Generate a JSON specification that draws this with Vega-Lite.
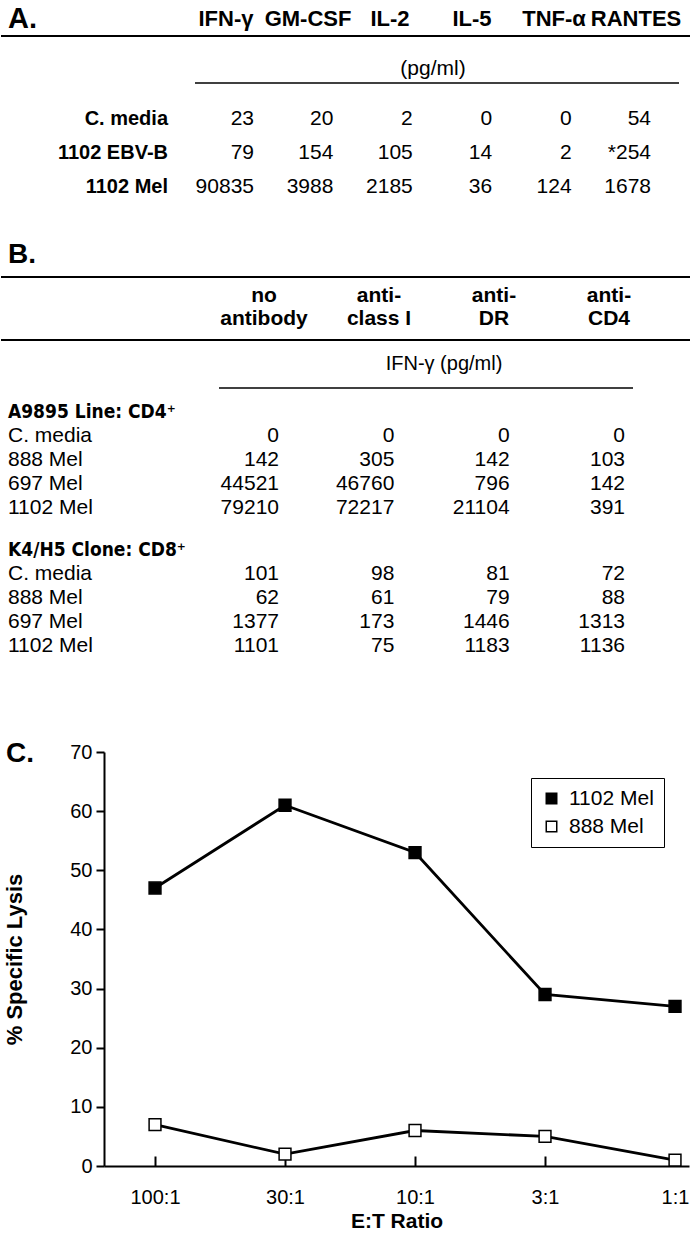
{
"$schema": "https://vega.github.io/schema/vega-lite/v6.json",
"width": 690, "height": 1166, "padding": 0, "autosize": {"type": "pad"}, "background": "white",
"config": {
  "view": {"stroke": null},
  "text": {"font": "Liberation Sans, Arial, Helvetica, sans-serif", "color": "black"},
  "rule": {"color": "black"},
  "line": {"color": "black"},
  "axis": {"labelFont": "Liberation Sans, Arial, sans-serif", "titleFont": "Liberation Sans, Arial, sans-serif", "labelColor": "black", "titleColor": "black", "domainColor": "black", "tickColor": "black", "grid": false},
  "legend": {"labelFont": "Liberation Sans, Arial, sans-serif", "labelColor": "black"}
},
"datasets": {
  "cytokinesA": [
    {"target": "C. media", "cytokine": "IFN-γ", "pgml": 23},
    {"target": "C. media", "cytokine": "GM-CSF", "pgml": 20},
    {"target": "C. media", "cytokine": "IL-2", "pgml": 2},
    {"target": "C. media", "cytokine": "IL-5", "pgml": 0},
    {"target": "C. media", "cytokine": "TNF-α", "pgml": 0},
    {"target": "C. media", "cytokine": "RANTES", "pgml": 54},
    {"target": "1102 EBV-B", "cytokine": "IFN-γ", "pgml": 79},
    {"target": "1102 EBV-B", "cytokine": "GM-CSF", "pgml": 154},
    {"target": "1102 EBV-B", "cytokine": "IL-2", "pgml": 105},
    {"target": "1102 EBV-B", "cytokine": "IL-5", "pgml": 14},
    {"target": "1102 EBV-B", "cytokine": "TNF-α", "pgml": 2},
    {"target": "1102 EBV-B", "cytokine": "RANTES", "pgml": "*254"},
    {"target": "1102 Mel", "cytokine": "IFN-γ", "pgml": 90835},
    {"target": "1102 Mel", "cytokine": "GM-CSF", "pgml": 3988},
    {"target": "1102 Mel", "cytokine": "IL-2", "pgml": 2185},
    {"target": "1102 Mel", "cytokine": "IL-5", "pgml": 36},
    {"target": "1102 Mel", "cytokine": "TNF-α", "pgml": 124},
    {"target": "1102 Mel", "cytokine": "RANTES", "pgml": 1678}
  ],
  "ifngB": [
    {"line": "A9895 Line: CD4⁺", "target": "C. media", "antibody": "no antibody", "ifng": 0},
    {"line": "A9895 Line: CD4⁺", "target": "C. media", "antibody": "anti-class I", "ifng": 0},
    {"line": "A9895 Line: CD4⁺", "target": "C. media", "antibody": "anti-DR", "ifng": 0},
    {"line": "A9895 Line: CD4⁺", "target": "C. media", "antibody": "anti-CD4", "ifng": 0},
    {"line": "A9895 Line: CD4⁺", "target": "888 Mel", "antibody": "no antibody", "ifng": 142},
    {"line": "A9895 Line: CD4⁺", "target": "888 Mel", "antibody": "anti-class I", "ifng": 305},
    {"line": "A9895 Line: CD4⁺", "target": "888 Mel", "antibody": "anti-DR", "ifng": 142},
    {"line": "A9895 Line: CD4⁺", "target": "888 Mel", "antibody": "anti-CD4", "ifng": 103},
    {"line": "A9895 Line: CD4⁺", "target": "697 Mel", "antibody": "no antibody", "ifng": 44521},
    {"line": "A9895 Line: CD4⁺", "target": "697 Mel", "antibody": "anti-class I", "ifng": 46760},
    {"line": "A9895 Line: CD4⁺", "target": "697 Mel", "antibody": "anti-DR", "ifng": 796},
    {"line": "A9895 Line: CD4⁺", "target": "697 Mel", "antibody": "anti-CD4", "ifng": 142},
    {"line": "A9895 Line: CD4⁺", "target": "1102 Mel", "antibody": "no antibody", "ifng": 79210},
    {"line": "A9895 Line: CD4⁺", "target": "1102 Mel", "antibody": "anti-class I", "ifng": 72217},
    {"line": "A9895 Line: CD4⁺", "target": "1102 Mel", "antibody": "anti-DR", "ifng": 21104},
    {"line": "A9895 Line: CD4⁺", "target": "1102 Mel", "antibody": "anti-CD4", "ifng": 391},
    {"line": "K4/H5 Clone: CD8⁺", "target": "C. media", "antibody": "no antibody", "ifng": 101},
    {"line": "K4/H5 Clone: CD8⁺", "target": "C. media", "antibody": "anti-class I", "ifng": 98},
    {"line": "K4/H5 Clone: CD8⁺", "target": "C. media", "antibody": "anti-DR", "ifng": 81},
    {"line": "K4/H5 Clone: CD8⁺", "target": "C. media", "antibody": "anti-CD4", "ifng": 72},
    {"line": "K4/H5 Clone: CD8⁺", "target": "888 Mel", "antibody": "no antibody", "ifng": 62},
    {"line": "K4/H5 Clone: CD8⁺", "target": "888 Mel", "antibody": "anti-class I", "ifng": 61},
    {"line": "K4/H5 Clone: CD8⁺", "target": "888 Mel", "antibody": "anti-DR", "ifng": 79},
    {"line": "K4/H5 Clone: CD8⁺", "target": "888 Mel", "antibody": "anti-CD4", "ifng": 88},
    {"line": "K4/H5 Clone: CD8⁺", "target": "697 Mel", "antibody": "no antibody", "ifng": 1377},
    {"line": "K4/H5 Clone: CD8⁺", "target": "697 Mel", "antibody": "anti-class I", "ifng": 173},
    {"line": "K4/H5 Clone: CD8⁺", "target": "697 Mel", "antibody": "anti-DR", "ifng": 1446},
    {"line": "K4/H5 Clone: CD8⁺", "target": "697 Mel", "antibody": "anti-CD4", "ifng": 1313},
    {"line": "K4/H5 Clone: CD8⁺", "target": "1102 Mel", "antibody": "no antibody", "ifng": 1101},
    {"line": "K4/H5 Clone: CD8⁺", "target": "1102 Mel", "antibody": "anti-class I", "ifng": 75},
    {"line": "K4/H5 Clone: CD8⁺", "target": "1102 Mel", "antibody": "anti-DR", "ifng": 1183},
    {"line": "K4/H5 Clone: CD8⁺", "target": "1102 Mel", "antibody": "anti-CD4", "ifng": 1136}
  ],
  "lysis": [
    {"ratio": "100:1", "target": "1102 Mel", "lysis": 47},
    {"ratio": "30:1", "target": "1102 Mel", "lysis": 61},
    {"ratio": "10:1", "target": "1102 Mel", "lysis": 53},
    {"ratio": "3:1", "target": "1102 Mel", "lysis": 29},
    {"ratio": "1:1", "target": "1102 Mel", "lysis": 27},
    {"ratio": "100:1", "target": "888 Mel", "lysis": 7},
    {"ratio": "30:1", "target": "888 Mel", "lysis": 2},
    {"ratio": "10:1", "target": "888 Mel", "lysis": 6},
    {"ratio": "3:1", "target": "888 Mel", "lysis": 5},
    {"ratio": "1:1", "target": "888 Mel", "lysis": 1}
  ]
},
"resolve": {"scale": {"x": "independent", "y": "independent"}},
"layer": [
  {"data": {"values": [{"panel": "A."}]},
   "mark": {"type": "text", "fontSize": 29, "fontWeight": "bold", "align": "left", "baseline": "alphabetic"},
   "encoding": {"text": {"field": "panel"},
     "x": {"field": "panel", "type": "nominal", "scale": {"type": "point", "range": [7, 7], "padding": 0}, "axis": null},
     "y": {"field": "panel", "type": "nominal", "scale": {"type": "point", "range": [28, 28], "padding": 0}, "axis": null}}},
  {"data": {"name": "cytokinesA"}, "transform": [{"filter": "datum.target === 'C. media'"}],
   "mark": {"type": "text", "fontSize": 22, "fontWeight": "bold", "align": "center", "baseline": "alphabetic"},
   "encoding": {"text": {"field": "cytokine"},
     "x": {"field": "cytokine", "type": "nominal", "scale": {"type": "point", "domain": ["IFN-γ", "GM-CSF", "IL-2", "IL-5", "TNF-α", "RANTES"], "range": [225, 635], "padding": 0}, "axis": null},
     "y": {"datum": "cytokine header", "type": "nominal", "scale": {"type": "point", "range": [26, 26], "padding": 0}, "axis": null}}},
  {"data": {"values": [{"rule": "header rule"}]},
   "mark": {"type": "rule", "strokeWidth": 2},
   "encoding": {"y": {"field": "rule", "type": "nominal", "scale": {"type": "point", "range": [36, 36], "padding": 0}, "axis": null}}},
  {"data": {"values": [{"unit": "(pg/ml)"}]},
   "mark": {"type": "text", "fontSize": 21, "align": "center", "baseline": "alphabetic"},
   "encoding": {"text": {"field": "unit"},
     "x": {"field": "unit", "type": "nominal", "scale": {"type": "point", "range": [432, 432], "padding": 0}, "axis": null},
     "y": {"field": "unit", "type": "nominal", "scale": {"type": "point", "range": [75, 75], "padding": 0}, "axis": null}}},
  {"data": {"values": [{"from": "IFN-γ", "to": "RANTES"}]},
   "mark": {"type": "rule", "strokeWidth": 1.5},
   "encoding": {
     "x": {"field": "from", "type": "nominal", "scale": {"type": "point", "domain": ["IFN-γ", "GM-CSF", "IL-2", "IL-5", "TNF-α", "RANTES"], "range": [194, 678], "padding": 0}, "axis": null},
     "x2": {"field": "to"},
     "y": {"datum": "unit rule", "type": "nominal", "scale": {"type": "point", "range": [83, 83], "padding": 0}, "axis": null}}},
  {"data": {"name": "cytokinesA"}, "transform": [{"filter": "datum.cytokine === 'IFN-γ'"}],
   "mark": {"type": "text", "fontSize": 20, "fontWeight": "bold", "align": "right", "baseline": "alphabetic"},
   "encoding": {"text": {"field": "target"},
     "x": {"datum": "row label", "type": "nominal", "scale": {"type": "point", "range": [167, 167], "padding": 0}, "axis": null},
     "y": {"field": "target", "type": "nominal", "scale": {"type": "point", "domain": ["C. media", "1102 EBV-B", "1102 Mel"], "range": [125, 193], "padding": 0}, "axis": null}}},
  {"data": {"name": "cytokinesA"},
   "mark": {"type": "text", "fontSize": 21, "align": "right", "baseline": "alphabetic"},
   "encoding": {"text": {"field": "pgml", "type": "nominal"},
     "x": {"field": "cytokine", "type": "nominal", "scale": {"type": "point", "domain": ["IFN-γ", "GM-CSF", "IL-2", "IL-5", "TNF-α", "RANTES"], "range": [253, 650], "padding": 0}, "axis": null},
     "y": {"field": "target", "type": "nominal", "scale": {"type": "point", "domain": ["C. media", "1102 EBV-B", "1102 Mel"], "range": [125, 193], "padding": 0}, "axis": null}}},

  {"data": {"values": [{"panel": "B."}]},
   "mark": {"type": "text", "fontSize": 28, "fontWeight": "bold", "align": "left", "baseline": "alphabetic"},
   "encoding": {"text": {"field": "panel"},
     "x": {"field": "panel", "type": "nominal", "scale": {"type": "point", "range": [7, 7], "padding": 0}, "axis": null},
     "y": {"field": "panel", "type": "nominal", "scale": {"type": "point", "range": [263, 263], "padding": 0}, "axis": null}}},
  {"data": {"values": [{"rule": "antibody header top"}]},
   "mark": {"type": "rule", "strokeWidth": 2},
   "encoding": {"y": {"field": "rule", "type": "nominal", "scale": {"type": "point", "range": [277, 277], "padding": 0}, "axis": null}}},
  {"data": {"values": [{"rule": "antibody header bottom"}]},
   "mark": {"type": "rule", "strokeWidth": 2},
   "encoding": {"y": {"field": "rule", "type": "nominal", "scale": {"type": "point", "range": [340, 340], "padding": 0}, "axis": null}}},
  {"data": {"values": [
     {"antibody": "no antibody", "header": ["no", "antibody"]},
     {"antibody": "anti-class I", "header": ["anti-", "class I"]},
     {"antibody": "anti-DR", "header": ["anti-", "DR"]},
     {"antibody": "anti-CD4", "header": ["anti-", "CD4"]}]},
   "mark": {"type": "text", "fontSize": 21, "fontWeight": "bold", "align": "center", "baseline": "alphabetic", "lineHeight": 23},
   "encoding": {"text": {"field": "header"},
     "x": {"field": "antibody", "type": "nominal", "scale": {"type": "point", "domain": ["no antibody", "anti-class I", "anti-DR", "anti-CD4"], "range": [263, 608], "padding": 0}, "axis": null},
     "y": {"datum": "antibody header", "type": "nominal", "scale": {"type": "point", "range": [302, 302], "padding": 0}, "axis": null}}},
  {"data": {"values": [{"unit": "IFN-γ (pg/ml)"}]},
   "mark": {"type": "text", "fontSize": 20, "align": "center", "baseline": "alphabetic"},
   "encoding": {"text": {"field": "unit"},
     "x": {"field": "unit", "type": "nominal", "scale": {"type": "point", "range": [443, 443], "padding": 0}, "axis": null},
     "y": {"field": "unit", "type": "nominal", "scale": {"type": "point", "range": [370, 370], "padding": 0}, "axis": null}}},
  {"data": {"values": [{"from": "no antibody", "to": "anti-CD4"}]},
   "mark": {"type": "rule", "strokeWidth": 1.5},
   "encoding": {
     "x": {"field": "from", "type": "nominal", "scale": {"type": "point", "domain": ["no antibody", "anti-class I", "anti-DR", "anti-CD4"], "range": [218, 632], "padding": 0}, "axis": null},
     "x2": {"field": "to"},
     "y": {"datum": "unit rule", "type": "nominal", "scale": {"type": "point", "range": [388, 388], "padding": 0}, "axis": null}}},
  {"data": {"name": "ifngB"}, "transform": [{"filter": "datum.antibody === 'no antibody' && datum.target === 'C. media'"}],
   "mark": {"type": "text", "fontSize": 19, "fontWeight": "bold", "font": "Liberation Sans Narrow, Arial Narrow, DejaVu Sans Condensed, Liberation Sans, sans-serif", "align": "left", "baseline": "alphabetic"},
   "encoding": {"text": {"field": "line"},
     "x": {"datum": "row label", "type": "nominal", "scale": {"type": "point", "range": [7, 7], "padding": 0}, "axis": null},
     "y": {"field": "line", "type": "nominal", "scale": {"type": "point", "domain": ["A9895 Line: CD4⁺", "K4/H5 Clone: CD8⁺"], "range": [418, 556], "padding": 0}, "axis": null}}},
  {"data": {"name": "ifngB"}, "transform": [{"filter": "datum.antibody === 'no antibody' && datum.line === 'A9895 Line: CD4⁺'"}],
   "mark": {"type": "text", "fontSize": 21, "align": "left", "baseline": "alphabetic"},
   "encoding": {"text": {"field": "target"},
     "x": {"datum": "row label", "type": "nominal", "scale": {"type": "point", "range": [7, 7], "padding": 0}, "axis": null},
     "y": {"field": "target", "type": "nominal", "scale": {"type": "point", "domain": ["C. media", "888 Mel", "697 Mel", "1102 Mel"], "range": [442, 514], "padding": 0}, "axis": null}}},
  {"data": {"name": "ifngB"}, "transform": [{"filter": "datum.antibody === 'no antibody' && datum.line === 'K4/H5 Clone: CD8⁺'"}],
   "mark": {"type": "text", "fontSize": 21, "align": "left", "baseline": "alphabetic"},
   "encoding": {"text": {"field": "target"},
     "x": {"datum": "row label", "type": "nominal", "scale": {"type": "point", "range": [7, 7], "padding": 0}, "axis": null},
     "y": {"field": "target", "type": "nominal", "scale": {"type": "point", "domain": ["C. media", "888 Mel", "697 Mel", "1102 Mel"], "range": [580, 652], "padding": 0}, "axis": null}}},
  {"data": {"name": "ifngB"}, "transform": [{"filter": "datum.line === 'A9895 Line: CD4⁺'"}],
   "mark": {"type": "text", "fontSize": 21, "align": "right", "baseline": "alphabetic"},
   "encoding": {"text": {"field": "ifng", "type": "nominal"},
     "x": {"field": "antibody", "type": "nominal", "scale": {"type": "point", "domain": ["no antibody", "anti-class I", "anti-DR", "anti-CD4"], "range": [278, 624], "padding": 0}, "axis": null},
     "y": {"field": "target", "type": "nominal", "scale": {"type": "point", "domain": ["C. media", "888 Mel", "697 Mel", "1102 Mel"], "range": [442, 514], "padding": 0}, "axis": null}}},
  {"data": {"name": "ifngB"}, "transform": [{"filter": "datum.line === 'K4/H5 Clone: CD8⁺'"}],
   "mark": {"type": "text", "fontSize": 21, "align": "right", "baseline": "alphabetic"},
   "encoding": {"text": {"field": "ifng", "type": "nominal"},
     "x": {"field": "antibody", "type": "nominal", "scale": {"type": "point", "domain": ["no antibody", "anti-class I", "anti-DR", "anti-CD4"], "range": [278, 624], "padding": 0}, "axis": null},
     "y": {"field": "target", "type": "nominal", "scale": {"type": "point", "domain": ["C. media", "888 Mel", "697 Mel", "1102 Mel"], "range": [580, 652], "padding": 0}, "axis": null}}},

  {"data": {"values": [{"panel": "C."}]},
   "mark": {"type": "text", "fontSize": 28, "fontWeight": "bold", "align": "left", "baseline": "alphabetic"},
   "encoding": {"text": {"field": "panel"},
     "x": {"field": "panel", "type": "nominal", "scale": {"type": "point", "range": [5, 5], "padding": 0}, "axis": null},
     "y": {"field": "panel", "type": "nominal", "scale": {"type": "point", "range": [762, 762], "padding": 0}, "axis": null}}},
  {"data": {"name": "lysis"},
   "mark": {"type": "line", "color": "black", "strokeWidth": 2.8},
   "encoding": {
     "x": {"field": "ratio", "type": "nominal", "sort": null,
       "scale": {"type": "point", "domain": ["100:1", "30:1", "10:1", "3:1", "1:1"], "range": [103, 688], "padding": 0.25, "align": 0.785},
       "axis": {"orient": "bottom", "title": "E:T Ratio", "labelAngle": 0, "domainWidth": 2, "tickWidth": 2, "tickSize": -10, "labelPadding": 31, "labelFontSize": 20, "titleFontSize": 21, "titleFontWeight": "bold", "titlePadding": 3}},
     "y": {"field": "lysis", "type": "quantitative",
       "scale": {"domain": [0, 70], "range": [1166, 752], "nice": false},
       "axis": {"orient": "left", "offset": -103, "title": "% Specific Lysis", "values": [0, 10, 20, 30, 40, 50, 60, 70], "domainWidth": 2, "tickWidth": 2, "tickSize": 8, "labelPadding": 4, "labelFontSize": 20, "titleFontSize": 22, "titleFontWeight": "bold", "titlePadding": 43}},
     "detail": {"field": "target"}}},
  {"data": {"name": "lysis"},
   "mark": {"type": "point", "shape": "square", "size": 140, "filled": true, "stroke": "black", "strokeWidth": 1.5, "opacity": 1},
   "encoding": {
     "x": {"field": "ratio", "type": "nominal", "sort": null,
       "scale": {"type": "point", "domain": ["100:1", "30:1", "10:1", "3:1", "1:1"], "range": [103, 688], "padding": 0.25, "align": 0.785}, "axis": null},
     "y": {"field": "lysis", "type": "quantitative", "scale": {"domain": [0, 70], "range": [1166, 752], "nice": false}, "axis": null},
     "fill": {"field": "target", "type": "nominal", "scale": {"domain": ["1102 Mel", "888 Mel"], "range": ["black", "white"]},
       "legend": {"orient": "none", "legendX": 530, "legendY": 778, "title": null, "strokeColor": "black", "fillColor": "white", "padding": 10, "symbolType": "square", "symbolSize": 110, "symbolStrokeColor": "black", "symbolStrokeWidth": 1.5, "labelFontSize": 21, "rowPadding": 6, "labelOffset": 7}}}}
]
}
